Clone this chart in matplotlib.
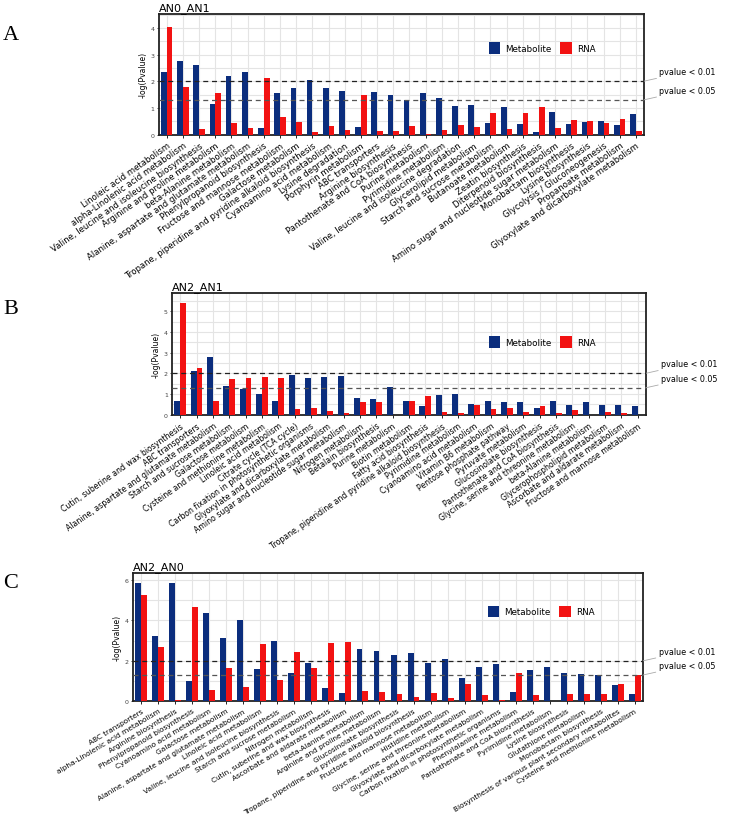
import numpy as np
import matplotlib
matplotlib.use('Agg')
import matplotlib.pyplot as plt
from matplotlib.ticker import MultipleLocator

# ---- data: -log10(p) for metabolite / RNA pathway enrichment ----
cats_a = ['Linoleic acid metabolism', 'alpha-Linolenic acid metabolism',
          'Valine, leucine and isoleucine biosynthesis', 'Arginine and proline metabolism',
          'beta-Alanine metabolism', 'Alanine, aspartate and glutamate metabolism',
          'Phenylpropanoid biosynthesis', 'Fructose and mannose metabolism',
          'Galactose metabolism', 'Tropane, piperidine and pyridine alkaloid biosynthesis',
          'Cyanoamino acid metabolism', 'Lysine degradation', 'Porphyrin metabolism',
          'ABC transporters', 'Arginine biosynthesis', 'Pantothenate and CoA biosynthesis',
          'Purine metabolism', 'Pyrimidine metabolism',
          'Valine, leucine and isoleucine degradation', 'Glycerolipid metabolism',
          'Starch and sucrose metabolism', 'Butanoate metabolism', 'Zeatin biosynthesis',
          'Diterpenoid biosynthesis', 'Amino sugar and nucleotide sugar metabolism',
          'Monobactam biosynthesis', 'Lysine biosynthesis', 'Glycolysis / Gluconeogenesis',
          'Propanoate metabolism', 'Glyoxylate and dicarboxylate metabolism']
met_a = [2.35, 2.74, 2.6, 1.16, 2.18, 2.35, 0.25, 1.56, 1.74, 2.05, 1.76, 1.65, 0.3,
         1.6, 1.5, 1.3, 1.56, 1.36, 1.06, 1.11, 0.44, 1.04, 0.41, 0.1, 0.85, 0.41,
         0.46, 0.5, 0.35, 0.76]
rna_a = [4.05, 1.8, 0.2, 1.55, 0.43, 0.25, 2.11, 0.66, 0.46, 0.08, 0.31, 0.16, 1.47,
         0.12, 0.12, 0.32, 0.02, 0.16, 0.35, 0.27, 0.8, 0.2, 0.79, 1.02, 0.25, 0.56,
         0.51, 0.45, 0.59, 0.12]

cats_b = ['Cutin, suberine and wax biosynthesis', 'ABC transporters',
          'Alanine, aspartate and glutamate metabolism', 'Starch and sucrose metabolism',
          'Galactose metabolism', 'Cysteine and methionine metabolism',
          'Linoleic acid metabolism', 'Citrate cycle (TCA cycle)',
          'Carbon fixation in photosynthetic organisms',
          'Glyoxylate and dicarboxylate metabolism',
          'Amino sugar and nucleotide sugar metabolism', 'Nitrogen metabolism',
          'Betalain biosynthesis', 'Purine metabolism', 'Biotin metabolism',
          'Fatty acid biosynthesis', 'Tropane, piperidine and pyridine alkaloid biosynthesis',
          'Pyrimidine metabolism', 'Cyanoamino acid metabolism', 'Vitamin B6 metabolism',
          'Pentose phosphate pathway', 'Pyruvate metabolism', 'Glucosinolate biosynthesis',
          'Pantothenate and CoA biosynthesis', 'Glycine, serine and threonine metabolism',
          'beta-Alanine metabolism', 'Glycerophospholipid metabolism',
          'Ascorbate and aldarate metabolism', 'Fructose and mannose metabolism']
met_b = [0.68, 2.1, 2.77, 1.4, 1.24, 1.0, 0.66, 1.92, 1.79, 1.81, 1.89, 0.82, 0.74,
         1.34, 0.68, 0.42, 0.94, 0.98, 0.5, 0.66, 0.6, 0.63, 0.32, 0.65, 0.47, 0.61,
         0.45, 0.47, 0.44]
rna_b = [5.4, 2.24, 0.66, 1.71, 1.79, 1.82, 1.77, 0.29, 0.34, 0.16, 0.06, 0.63, 0.63,
         0.0, 0.68, 0.89, 0.15, 0.08, 0.47, 0.26, 0.31, 0.13, 0.44, 0.06, 0.21, 0.0,
         0.15, 0.08, 0.0]

cats_c = ['ABC transporters', 'alpha-Linolenic acid metabolism', 'Arginine biosynthesis',
          'Phenylpropanoid biosynthesis', 'Cyanoamino acid metabolism',
          'Galactose metabolism', 'Alanine, aspartate and glutamate metabolism',
          'Linoleic acid metabolism', 'Valine, leucine and isoleucine biosynthesis',
          'Starch and sucrose metabolism', 'Nitrogen metabolism',
          'Cutin, suberine and wax biosynthesis', 'Ascorbate and aldarate metabolism',
          'beta-Alanine metabolism', 'Arginine and proline metabolism',
          'Glucosinolate biosynthesis',
          'Tropane, piperidine and pyridine alkaloid biosynthesis',
          'Fructose and mannose metabolism', 'Histidine metabolism',
          'Glycine, serine and threonine metabolism',
          'Glyoxylate and dicarboxylate metabolism',
          'Carbon fixation in photosynthetic organisms', 'Phenylalanine metabolism',
          'Pantothenate and CoA biosynthesis', 'Pyrimidine metabolism',
          'Lysine biosynthesis', 'Glutathione metabolism', 'Monobactam biosynthesis',
          'Biosynthesis of various plant secondary metabolites',
          'Cysteine and methionine metabolism']
met_c = [5.82, 3.2, 5.84, 1.02, 4.34, 3.14, 4.0, 1.6, 2.98, 1.38, 1.91, 0.67, 0.41,
         2.57, 2.48, 2.3, 2.4, 1.88, 2.07, 1.17, 1.71, 1.83, 0.44, 1.53, 1.71, 1.4,
         1.35, 1.32, 0.82, 0.35]
rna_c = [5.26, 2.7, 0.05, 4.64, 0.56, 1.66, 0.71, 2.81, 1.07, 2.42, 1.66, 2.89, 2.93,
         0.53, 0.44, 0.35, 0.21, 0.41, 0.16, 0.86, 0.3, 0.05, 1.38, 0.3, 0.02, 0.35,
         0.38, 0.36, 0.86, 1.3]

BLUE = '#0b2d7d'
RED = '#f21212'


def panel(fig, rect, letter, letter_y, title, cats, met, rna, ymax, ystep, leg_xy,
          lab_fs, rot):
    ax = fig.add_axes(rect)
    x = np.arange(len(cats))
    w = 0.35
    ax.bar(x - w / 2, met, w, color=BLUE, label='Metabolite', zorder=3)
    ax.bar(x + w / 2, rna, w, color=RED, label='RNA', zorder=3)
    ax.set_xlim(-0.5, len(cats) - 0.5)
    ax.set_ylim(0, ymax)
    ax.yaxis.set_major_locator(MultipleLocator(ystep))
    ax.yaxis.set_minor_locator(MultipleLocator(ystep / 2))
    ax.set_xticks(x)
    ax.set_xticklabels(cats, rotation=rot, ha='right', rotation_mode='anchor',
                       fontsize=lab_fs)
    ax.tick_params(axis='x', length=2.5, width=0.6, pad=2)
    ax.tick_params(axis='y', which='major', labelsize=4.5, labelcolor='#444',
                   length=1.5, width=0.5, pad=1.5)
    ax.tick_params(axis='y', which='minor', length=0)
    ax.grid(True, axis='x', color='#e4e4e4', lw=0.8, zorder=0)
    ax.grid(True, axis='y', which='both', color='#e4e4e4', lw=0.8, zorder=0)
    for s in ax.spines.values():
        s.set_linewidth(1.3)
        s.set_color('#222')
    ax.set_ylabel('-log(Pvalue)', fontsize=5.5, labelpad=2, family='Liberation Sans Narrow')
    ax.set_title(title, loc='left', fontsize=8, pad=2.5)

    ax.axhline(2, color='#222', lw=0.9, ls=(0, (4, 3)), zorder=4)
    ax.axhline(-np.log10(0.05), color='#555', lw=0.9, ls=(0, (4, 3)), zorder=4)
    for yv, txt in [(2, 'pvalue < 0.01'), (-np.log10(0.05), 'pvalue < 0.05')]:
        ax.annotate(txt, xy=(1, yv), xycoords=('axes fraction', 'data'),
                    xytext=(11, 7), textcoords='offset points', fontsize=5.8,
                    va='center', ha='left', annotation_clip=False,
                    arrowprops=dict(arrowstyle='-', color='#aaa', lw=0.6,
                                    shrinkA=0, shrinkB=0))

    ax.legend(loc='center', bbox_to_anchor=leg_xy, ncol=2, frameon=False,
              fontsize=6.3, handlelength=1.3, handleheight=1.7, columnspacing=1.0,
              handletextpad=0.6)

    fig.text(0.004, letter_y, letter, fontsize=16, family='Liberation Serif',
             va='center', ha='left')
    return ax


fig = plt.figure(figsize=(7.32, 8.37), dpi=100)

panel(fig, [0.2168, 0.8381, 0.663, 0.1443], 'A', 1 - 36 / 837, 'AN0_AN1',
      cats_a, met_a, rna_a, 4.53, 1, (0.79, 0.716), 6.1, 35)
panel(fig, [0.235, 0.5033, 0.6471, 0.1454], 'B', 1 - 310 / 837, 'AN2_AN1',
      cats_b, met_b, rna_b, 5.88, 1, (0.781, 0.6), 5.6, 35)
panel(fig, [0.1813, 0.1609, 0.6975, 0.1533], 'C', 1 - 584 / 837, 'AN2_AN0',
      cats_c, met_c, rna_c, 6.33, 2, (0.80, 0.70), 5.3, 31)

plt.savefig('out.png', dpi=100)
